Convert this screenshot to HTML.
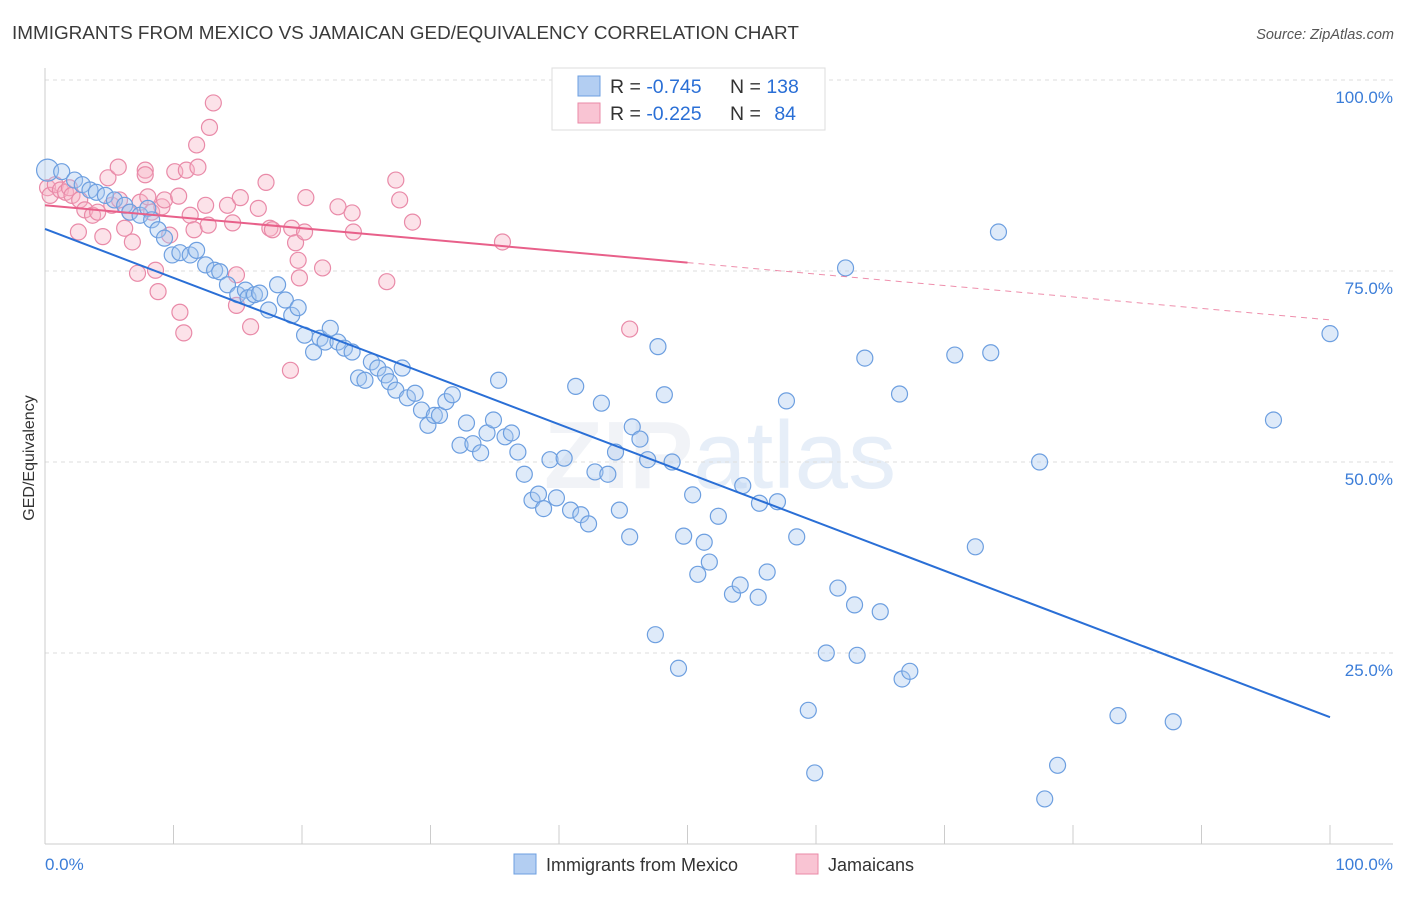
<!DOCTYPE html>
<html><head><meta charset="utf-8">
<style>
body{margin:0;background:#fff;font-family:"Liberation Sans",sans-serif;}
svg text{font-family:"Liberation Sans",sans-serif;}
</style></head>
<body>
<svg id="chart" width="1406" height="892" viewBox="0 0 1406 892" xmlns="http://www.w3.org/2000/svg">
<text x="12" y="39" font-size="18.9" fill="#3a3a3a">IMMIGRANTS FROM MEXICO VS JAMAICAN GED/EQUIVALENCY CORRELATION CHART</text>
<text x="1394" y="39" font-size="14.5" fill="#555" text-anchor="end" font-style="italic">Source: ZipAtlas.com</text>
<text x="720" y="488" font-size="96" fill="#e6ebf2" text-anchor="middle" font-family="Liberation Serif" font-weight="bold" opacity="0.55">ZIP<tspan font-family="Liberation Sans" font-weight="normal" fill="#d3e1f3">atlas</tspan></text>
<g id="grid"></g>
<g id="axes"></g>
<g id="pinkPts"></g>
<g id="bluePts"></g>
<g id="lines"></g>
<text transform="translate(34,458) rotate(-90)" font-size="16" fill="#333" text-anchor="middle">GED/Equivalency</text>
<text x="45" y="870" font-size="17" fill="#3b7dd8">0.0%</text>
<text x="1393" y="870" font-size="17" fill="#3b7dd8" text-anchor="end">100.0%</text>
<g>
<rect x="552" y="68" width="273" height="62" fill="#fff" stroke="#ddd"/>
<rect x="578" y="76" width="22" height="20" fill="#b3cef2" stroke="#6d9fe0"/>
<rect x="578" y="103" width="22" height="20" fill="#f9c4d3" stroke="#ea8aa7"/>
<text x="610" y="93" font-size="19.5" fill="#333">R = <tspan fill="#2a6fd6">-0.745</tspan><tspan x="730">N = </tspan><tspan fill="#2a6fd6">138</tspan></text>
<text x="610" y="120" font-size="19.5" fill="#333">R = <tspan fill="#2a6fd6">-0.225</tspan><tspan x="730">N = </tspan><tspan fill="#2a6fd6" dx="8">84</tspan></text>
</g>
<g>
<rect x="514" y="854" width="22" height="20" fill="#b3cef2" stroke="#6d9fe0"/>
<text x="546" y="871" font-size="18" fill="#333">Immigrants from Mexico</text>
<rect x="796" y="854" width="22" height="20" fill="#f9c4d3" stroke="#ea8aa7"/>
<text x="828" y="871" font-size="18" fill="#333">Jamaicans</text>
</g>
</svg>
<script>
const yTicks=[25,50,75,100];
const yTickLabels=["25.0%","50.0%","75.0%","100.0%"];
const xTicks=[0,10,20,30,40,50,60,70,80,90,100];
const blueX=[0.2,1.3,2.3,2.9,3.5,4.0,4.7,5.4,6.2,6.6,7.4,8.0,8.3,8.8,9.3,9.9,10.5,11.3,11.8,12.5,13.2,13.6,14.2,15.0,15.6,15.8,16.3,16.7,17.4,18.1,18.7,19.2,19.7,20.2,20.9,21.4,21.8,22.2,22.8,23.3,23.9,24.4,24.9,25.4,25.9,26.5,26.8,27.3,27.8,28.2,28.8,29.3,29.8,30.3,30.7,31.2,31.7,32.3,32.8,33.3,33.9,34.4,34.9,35.3,35.8,36.3,36.8,37.3,37.9,38.4,38.8,39.3,39.8,40.4,40.9,41.3,41.7,42.3,42.8,43.3,43.8,44.4,44.7,45.5,45.7,46.3,46.9,47.5,47.7,48.2,48.8,49.3,49.7,50.4,50.8,51.3,51.7,52.4,53.5,54.1,54.3,55.5,55.6,56.2,57.0,57.7,58.5,59.4,59.9,60.8,61.7,62.3,63.0,63.2,63.8,65.0,66.5,66.7,67.3,70.8,72.4,73.6,74.2,77.4,77.8,78.8,83.5,87.8,95.6,100.0,56.8];
const blueY=[88.2,88.0,86.9,86.3,85.6,85.3,84.9,84.3,83.6,82.7,82.3,83.2,81.7,80.4,79.3,77.1,77.4,77.1,77.7,75.8,75.1,74.9,73.2,71.9,72.5,71.5,71.9,72.1,69.9,73.2,71.2,69.2,70.2,66.6,64.4,66.2,65.7,67.5,65.7,64.9,64.4,61.0,60.7,63.1,62.3,61.4,60.5,59.4,62.3,58.4,59.0,56.8,54.8,56.1,56.1,57.9,58.8,52.2,55.1,52.4,51.2,53.8,55.5,60.7,53.3,53.8,51.3,48.4,45.0,45.8,43.9,50.3,45.3,50.5,43.7,59.9,43.1,41.9,48.7,57.7,48.4,51.3,43.7,40.2,54.6,53.0,50.3,27.4,65.1,58.8,50.0,23.0,40.3,45.7,35.3,39.5,36.9,42.9,32.7,33.9,46.9,32.3,44.6,35.6,44.8,58.0,40.2,17.5,9.3,25.0,33.5,75.4,31.3,24.7,63.6,30.4,58.9,21.6,22.6,64.0,38.9,64.3,80.1,50.0,5.9,10.3,16.8,16.0,55.5,66.8,100.0];
const pinkX=[0.2,0.4,0.8,1.2,1.6,1.9,2.1,2.7,3.1,2.6,3.7,4.1,4.5,4.9,5.2,5.7,5.8,6.2,6.6,6.8,7.2,7.4,7.8,7.8,8.0,8.3,8.6,8.8,9.1,9.3,9.7,10.1,10.4,10.5,10.8,11.0,11.3,11.6,11.8,11.9,12.5,12.7,12.8,13.1,14.2,14.6,14.9,14.9,15.2,16.0,16.6,17.2,17.5,17.7,19.1,19.2,19.5,19.7,19.8,20.2,20.3,21.6,22.8,23.9,24.0,26.6,27.3,27.6,28.6,35.6,42.7,45.5];
const pinkY=[85.9,84.9,86.3,85.6,85.3,85.9,84.9,84.3,83.0,80.1,82.3,82.7,79.5,87.2,83.6,88.6,84.3,80.6,82.7,78.8,74.7,84.0,88.2,87.6,84.7,82.7,75.1,72.3,83.4,84.3,79.7,88.0,84.8,69.6,66.9,88.2,82.3,80.4,91.5,88.6,83.6,81.0,93.8,97.0,83.6,81.3,74.5,70.5,84.6,67.7,83.2,86.6,80.6,80.4,62.0,80.6,78.7,76.4,74.1,80.1,84.6,75.4,83.4,82.6,80.1,73.6,86.9,84.3,81.4,78.8,94.8,67.4];
const blueTrend=[80.5,16.6];
const pinkTrend=[83.6,68.6];
const pinkSolidEnd=50;

const NS="http://www.w3.org/2000/svg";
const X0=45,X1=1330,Y0=844,Y100=80;
const sx=v=>X0+(X1-X0)*v/100;
const sy=v=>Y0-(Y0-Y100)*v/100;
function mk(tag,attrs,parent){const e=document.createElementNS(NS,tag);for(const k in attrs)e.setAttribute(k,attrs[k]);parent.appendChild(e);return e;}
const grid=document.getElementById('grid'),axes=document.getElementById('axes');
yTicks.forEach((t,i)=>{
  const l=mk('line',{x1:X0,x2:1393,y1:sy(t),y2:sy(t),stroke:'#ddd','stroke-dasharray':'4,4'},grid);
  
  
  const tx=mk('text',{x:1393,y:sy(t)+23,'font-size':17,fill:'#3b7dd8','text-anchor':'end'},axes);
  tx.textContent=yTickLabels[i];
  
  
});
const xl=mk('line',{x1:X0,x2:1393,y1:Y0,y2:Y0,stroke:'#ccc'},axes);


const yl=mk('line',{x1:X0,x2:X0,y1:68,y2:Y0,stroke:'#ccc'},axes);


xTicks.forEach(t=>{
  const l=mk('line',{x1:sx(t),x2:sx(t),y1:Y0-19,y2:Y0,stroke:'#ccc'},axes);
  
  
});
function pts(xs,ys,g,fill,stroke,name){
  xs.forEach((x,i)=>{
    const c=mk('circle',{cx:sx(x),cy:sy(ys[i]),r:(i===0&&name==='mexico-point')?11:8,fill:fill,'fill-opacity':0.38,stroke:stroke,'stroke-width':1.2},g);
    
    
  });
}
pts(pinkX,pinkY,document.getElementById('pinkPts'),'#f7b2c6','#e98aa8','jamaican-point');
pts(blueX,blueY,document.getElementById('bluePts'),'#a9c8ee','#6d9fe0','mexico-point');
const lines=document.getElementById('lines');
const bl=mk('line',{x1:sx(0),y1:sy(blueTrend[0]),x2:sx(100),y2:sy(blueTrend[1]),stroke:'#2a6fd6','stroke-width':2},lines);


const pm=pinkTrend[0]+(pinkTrend[1]-pinkTrend[0])*pinkSolidEnd/100;
const pl=mk('line',{x1:sx(0),y1:sy(pinkTrend[0]),x2:sx(pinkSolidEnd),y2:sy(pm),stroke:'#e8608a','stroke-width':2},lines);


const pd=mk('line',{x1:sx(pinkSolidEnd),y1:sy(pm),x2:sx(100),y2:sy(pinkTrend[1]),stroke:'#e8608a','stroke-width':1,'stroke-dasharray':'6,5',opacity:0.7},lines);


</script>
</body></html>
